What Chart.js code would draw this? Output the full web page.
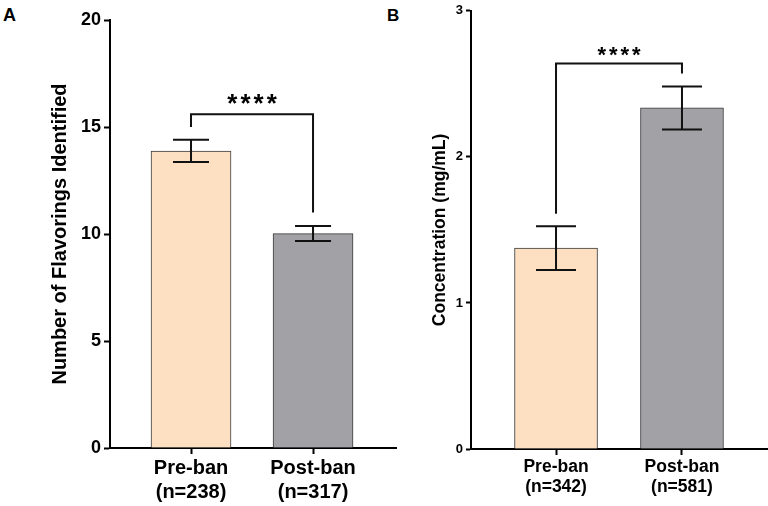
<!DOCTYPE html>
<html>
<head>
<meta charset="utf-8">
<script src="https://cdn.jsdelivr.net/npm/chart.js@4/dist/chart.umd.min.js"></script>
<style>
  body { margin: 0; background: #fff; width: 768px; height: 506px; position: relative; overflow: hidden; }
  canvas { position: absolute; top: 0; }
  .panel { position: absolute; font-family: "Liberation Sans", Arial, sans-serif; font-weight: bold; color: #000; line-height: 1; }
</style>
</head>
<body>
<div class="panel" style="left:3px;top:6px;font-size:18px">A</div>
<div class="panel" style="left:387px;top:7px;font-size:17px">B</div>
<canvas id="chartA" width="400" height="506" style="left:0"></canvas>
<canvas id="chartB" width="368" height="506" style="left:400px"></canvas>
<script>
const categories = ["Pre-ban", "Post-ban"];
const barColors = ["#FDDFC1", "#A1A1A6"];

// panel A: number of flavorings
const sampleSizesA = ["(n=238)", "(n=317)"];
const meansA = [13.88, 10.02];
const errorsA = [0.52, 0.35];
const yTicksA = [0, 20, 5];            // min, max, step
const bracketA = [15.6, 15.0, 11.0];   // top, left leg end, right leg end

// panel B: concentration
const sampleSizesB = ["(n=342)", "(n=581)"];
const meansB = [1.375, 2.335];
const errorsB = [0.15, 0.147];
const yTicksB = [0, 3, 1];
const bracketB = [2.64, 1.61, 2.57];

const FONT = '"Liberation Sans", Arial, sans-serif';

function makePanel(id, o) {
  const points = o.means.map((v, i) => ({ x: i, y: v }));

  const errorBars = {
    id: "errorBars",
    afterDatasetsDraw(chart) {
      const ctx = chart.ctx, xs = chart.scales.x, ys = chart.scales.y;
      ctx.save();
      ctx.strokeStyle = "#111";
      ctx.lineWidth = 2;
      o.means.forEach((m, i) => {
        const x = xs.getPixelForValue(i);
        const hi = ys.getPixelForValue(m + o.errors[i]);
        const lo = ys.getPixelForValue(m - o.errors[i]);
        ctx.beginPath();
        ctx.moveTo(x, hi); ctx.lineTo(x, lo);
        ctx.moveTo(x - o.cap, hi); ctx.lineTo(x + o.cap, hi);
        ctx.moveTo(x - o.cap, lo); ctx.lineTo(x + o.cap, lo);
        ctx.stroke();
      });
      // significance bracket
      const x0 = xs.getPixelForValue(0), x1 = xs.getPixelForValue(1);
      const top = ys.getPixelForValue(o.bracket[0]);
      ctx.beginPath();
      ctx.moveTo(x0, ys.getPixelForValue(o.bracket[1]));
      ctx.lineTo(x0, top);
      ctx.lineTo(x1, top);
      ctx.lineTo(x1, ys.getPixelForValue(o.bracket[2]));
      ctx.stroke();
      ctx.fillStyle = "#000";
      ctx.font = "bold " + o.starSize + "px " + FONT;
      ctx.letterSpacing = o.starGap + "px";
      ctx.textAlign = "center";
      ctx.textBaseline = "alphabetic";
      ctx.fillText("****", (x0 + x1) / 2 + o.starGap / 2, top + o.starDy);
      ctx.restore();
    }
  };

  return new Chart(document.getElementById(id), {
    type: "bar",
    data: {
      datasets: [{
        data: points,
        backgroundColor: barColors,
        borderColor: "#3a3a3a",
        borderWidth: 1,
        barThickness: o.barWidth
      }]
    },
    options: {
      responsive: false,
      animation: false,
      devicePixelRatio: 1,
      layout: { padding: o.padding },
      plugins: { legend: { display: false }, tooltip: { enabled: false } },
      scales: {
        x: {
          type: "linear",
          offset: false,
          min: o.xRange[0],
          max: o.xRange[1],
          bounds: "data",
          afterBuildTicks: s => { s.ticks = o.means.map((_, i) => ({ value: i })); },
          afterFit: s => { s.height = o.xHeight; },
          border: { color: "#000", width: 2 },
          grid: { offset: false, drawOnChartArea: false, tickLength: 6, tickWidth: 2, tickColor: "#000" },
          ticks: {
            color: "#000",
            padding: o.xPad,
            maxRotation: 0,
            autoSkip: false,
            font: { family: FONT, weight: "bold", size: o.xFont, lineHeight: o.xLine },
            callback: v => [categories[v], o.sizes[v]]
          }
        },
        y: {
          min: o.yTicks[0],
          max: o.yTicks[1],
          afterFit: s => { s.width = o.yWidth; },
          border: { color: "#000", width: 2 },
          grid: { drawOnChartArea: false, tickLength: o.yTickLen, tickWidth: 2, tickColor: "#000" },
          ticks: {
            color: "#000",
            stepSize: o.yTicks[2],
            padding: 3,
            font: { family: FONT, weight: "bold", size: o.yFont }
          },
          title: {
            display: true,
            text: o.title,
            color: "#000",
            padding: { top: o.titlePad, bottom: 0 },
            font: { family: FONT, weight: "bold", size: o.titleFont }
          }
        }
      }
    },
    plugins: [errorBars]
  });
}

makePanel("chartA", {
  means: meansA, errors: errorsA, sizes: sampleSizesA, yTicks: yTicksA, bracket: bracketA,
  title: "Number of Flavorings Identified", titleFont: 20, titlePad: 48,
  yFont: 18, yWidth: 110, yTickLen: 6, xFont: 20, xLine: 1.2, xPad: 2, xHeight: 58,
  xRange: [-0.664, 1.68], padding: { top: 20, right: 4, left: 0, bottom: 0 },
  barWidth: 80, cap: 18, starSize: 26, starGap: 3, starDy: -2
});

makePanel("chartB", {
  means: meansB, errors: errorsB, sizes: sampleSizesB, yTicks: yTicksB, bracket: bracketB,
  title: "Concentration (mg/mL)", titleFont: 17.5, titlePad: 29.5,
  yFont: 13, yWidth: 71, yTickLen: 5, xFont: 17.5, xLine: 1.15, xPad: 2, xHeight: 57,
  xRange: [-0.675, 1.675], padding: { top: 9.5, right: 1, left: 0, bottom: 0 },
  barWidth: 83, cap: 20, starSize: 22, starGap: 3, starDy: -1
});
</script>
</body>
</html>
